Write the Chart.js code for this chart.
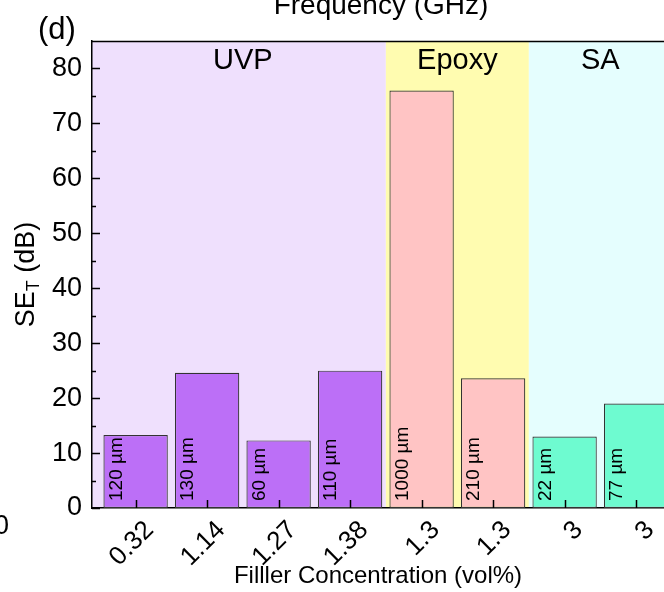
<!DOCTYPE html>
<html>
<head>
<meta charset="utf-8">
<script src="https://cdn.jsdelivr.net/npm/chart.js@4.4.1/dist/chart.umd.min.js"></script>
<style>
    html, body { margin: 0; padding: 0; background: #fff; overflow: hidden; }
    #wrap { width: 664px; height: 592px; }
</style>
</head>
<body>
<div id="wrap"><canvas id="seChart" width="664" height="592"></canvas></div>
<script>
// filler concentration (x labels), sample thickness and SE_T values
const concLabels = ['0.32', '1.14', '1.27', '1.38', '1.3', '1.3', '3', '3'];
const thickness = ['120 µm', '130 µm', '60 µm', '110 µm', '1000 µm', '210 µm', '22 µm', '77 µm'];
const seValues = [13.3, 24.6, 12.3, 25.0, 76.0, 23.6, 13.0, 19.0];
const matrix = ['UVP', 'UVP', 'UVP', 'UVP', 'Epoxy', 'Epoxy', 'SA', 'SA'];
const yTicks = [0, 10, 20, 30, 40, 50, 60, 70, 80];
const yMinorTicks = [5, 15, 25, 35, 45, 55, 65, 75];

const FONT = "'Liberation Sans', Arial, sans-serif";

// colours per matrix
const barColors = { UVP: '#bc6ff7', Epoxy: '#ffc4c4', SA: '#6efbd0' };
const bgColors = { UVP: '#efe0fd', Epoxy: '#fffcb0', SA: '#e5fefe' };

// group consecutive bars into matrix regions
function getRegions() {
    const out = [];
    matrix.forEach((m, i) => {
        const last = out[out.length - 1];
        if (last && last.name === m) last.to = i + 1;
        else out.push({ name: m, from: i + 1, to: i + 1 });
    });
    return out;
}

const extrasPlugin = {
    id: 'extras',
    beforeDraw(chart) {
        const { ctx, chartArea: a, scales: { x } } = chart;
        const regions = getRegions();
        ctx.save();
        regions.forEach((r, k) => {
            const x0 = k === 0 ? a.left : x.getPixelForValue(r.from - 0.5);
            const x1 = k === regions.length - 1 ? a.right : x.getPixelForValue(r.to + 0.5);
            ctx.fillStyle = bgColors[r.name];
            ctx.fillRect(x0, a.top, x1 - x0, a.bottom - a.top);
        });
        ctx.restore();
    },
    afterDatasetsDraw(chart) {
        const { ctx, chartArea: a, scales: { x, y } } = chart;
        ctx.save();

        // thickness labels inside bars
        const meta = chart.getDatasetMeta(0);
        ctx.fillStyle = '#000';
        ctx.font = '19px ' + FONT;
        ctx.textAlign = 'left';
        ctx.textBaseline = 'middle';
        meta.data.forEach((bar, i) => {
            const left = bar.x - bar.width / 2;
            ctx.save();
            ctx.translate(left + 13, bar.base - 7);
            ctx.rotate(-Math.PI / 2);
            ctx.fillText(thickness[i], 0, 0);
            ctx.restore();
        });

        // x tick labels, rotated 45 degrees
        ctx.font = '26px ' + FONT;
        ctx.textAlign = 'right';
        ctx.textBaseline = 'middle';
        x.ticks.forEach((t, i) => {
            ctx.save();
            ctx.translate(x.getPixelForValue(t.value) + 14, a.bottom + 18);
            ctx.rotate(-Math.PI / 4);
            ctx.fillText(concLabels[i], 0, 0);
            ctx.restore();
        });

        // inward ticks
        ctx.strokeStyle = '#000';
        ctx.lineWidth = 1.5;
        ctx.beginPath();
        x.ticks.forEach(t => {
            const px = Math.round(x.getPixelForValue(t.value)) + 0.5;
            ctx.moveTo(px, a.bottom);
            ctx.lineTo(px, a.bottom - 8);
        });
        yTicks.forEach(v => {
            const py = Math.round(y.getPixelForValue(v)) + 0.5;
            ctx.moveTo(a.left, py);
            ctx.lineTo(a.left + 8, py);
        });
        yMinorTicks.forEach(v => {
            const py = Math.round(y.getPixelForValue(v)) + 0.5;
            ctx.moveTo(a.left, py);
            ctx.lineTo(a.left + 4, py);
        });
        ctx.stroke();

        // top frame line
        ctx.beginPath();
        ctx.moveTo(a.left, a.top + 0.5);
        ctx.lineTo(a.right, a.top + 0.5);
        ctx.stroke();

        // region names
        ctx.font = '29px ' + FONT;
        ctx.textAlign = 'center';
        ctx.textBaseline = 'middle';
        getRegions().forEach(r => {
            ctx.fillText(r.name, x.getPixelForValue((r.from + r.to) / 2), a.top + 20);
        });

        // y title with subscript
        ctx.save();
        ctx.translate(24, (a.top + a.bottom) / 2);
        ctx.rotate(-Math.PI / 2);
        const big = '27px ' + FONT, small = '18px ' + FONT;
        ctx.font = big;
        const w1 = ctx.measureText('SE').width;
        const w3 = ctx.measureText(' (dB)').width;
        ctx.font = small;
        const w2 = ctx.measureText('T').width;
        let cx = -(w1 + w2 + w3) / 2;
        ctx.textAlign = 'left';
        ctx.textBaseline = 'alphabetic';
        ctx.font = big;
        ctx.fillText('SE', cx, 10);
        cx += w1;
        ctx.font = small;
        ctx.fillText('T', cx, 15);
        cx += w2;
        ctx.font = big;
        ctx.fillText(' (dB)', cx, 10);
        ctx.restore();

        // panel letter and cut-off neighbour texts
        ctx.font = '31px ' + FONT;
        ctx.textAlign = 'left';
        ctx.textBaseline = 'alphabetic';
        ctx.fillText('(d)', 38, 39);
        ctx.font = '28px ' + FONT;
        ctx.textAlign = 'center';
        ctx.fillText('Frequency (GHz)', 381, 14);
        ctx.font = '27px ' + FONT;
        ctx.textAlign = 'right';
        ctx.textBaseline = 'middle';
        ctx.fillText('0', 9, 527);

        ctx.restore();
    }
};

new Chart(document.getElementById('seChart'), {
    type: 'bar',
    data: {
        datasets: [{
            data: seValues.map((v, i) => ({ x: i + 1, y: v })),
            backgroundColor: matrix.map(m => barColors[m]),
            borderColor: '#333333',
            borderWidth: 1.2,
            borderSkipped: false,
            barPercentage: 0.9,
            categoryPercentage: 1.0
        }]
    },
    options: {
        responsive: false,
        animation: false,
        layout: { padding: { top: 41, right: 0, left: 0, bottom: 0 } },
        plugins: {
            legend: { display: false },
            tooltip: { enabled: false }
        },
        scales: {
            x: {
                type: 'linear',
                offset: false,
                min: 0.39,
                max: 8.39,
                afterBuildTicks: s => { s.ticks = concLabels.map((_, i) => ({ value: i + 1 })); },
                afterFit: s => { s.height = 84; },
                grid: { display: false, drawTicks: false },
                border: { display: true, color: '#000', width: 1.5 },
                ticks: { display: false },
                title: {
                    display: true,
                    text: 'Filller Concentration (vol%)',
                    color: '#000',
                    font: { family: FONT, size: 24 },
                    padding: { top: 0, bottom: 1 }
                }
            },
            y: {
                min: 0,
                max: 85,
                afterBuildTicks: s => { s.ticks = yTicks.map(v => ({ value: v })); },
                afterFit: s => { s.width = 92; },
                grid: { display: false, drawTicks: false },
                border: { display: true, color: '#000', width: 1.5 },
                ticks: {
                    padding: 10,
                    color: '#000',
                    font: { family: FONT, size: 27 }
                }
            }
        }
    },
    plugins: [extrasPlugin]
});
</script>
</body>
</html>
